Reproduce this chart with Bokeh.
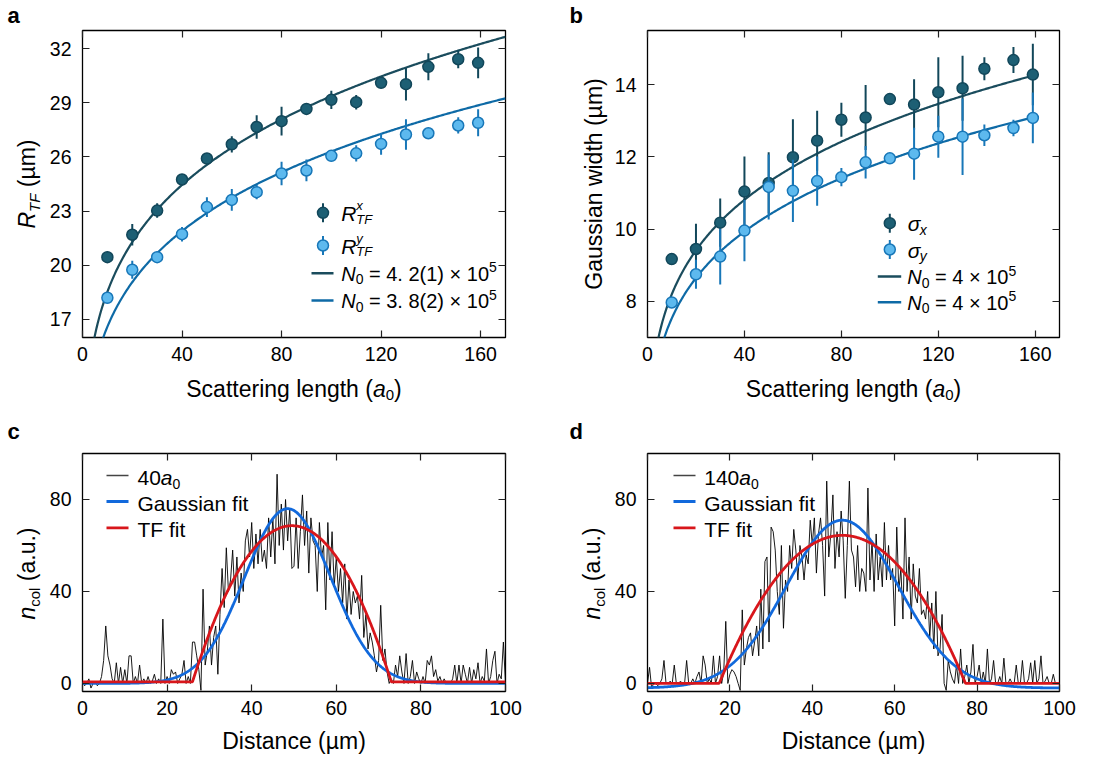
import numpy as np
from bokeh.plotting import figure
from bokeh.models import Range1d, FixedTicker, LinearAxis
from bokeh.core.properties import value
from bokeh.layouts import column, row
from bokeh.embed import file_html
from bokeh.resources import INLINE

# ---------------- data ----------------
scat_len = [10, 20, 30, 40, 50, 60, 70, 80, 90, 100, 110, 120, 130, 139, 151, 159]

rtf_x = [20.45, 21.69, 23.03, 24.75, 25.91, 26.70, 27.66, 27.98, 28.66, 29.16, 29.03, 30.10, 30.03, 30.99, 31.41, 31.21]
rtf_x_err = [0.3, 0.6, 0.4, 0.3, 0.3, 0.45, 0.65, 0.8, 0.3, 0.5, 0.4, 0.3, 0.9, 0.75, 0.5, 0.85]
rtf_y = [18.20, 19.75, 20.45, 21.72, 23.22, 23.62, 24.05, 25.08, 25.25, 26.06, 26.20, 26.72, 27.24, 27.31, 27.74, 27.89]
rtf_y_err = [0.3, 0.5, 0.3, 0.4, 0.55, 0.6, 0.4, 0.65, 0.6, 0.3, 0.45, 0.6, 0.85, 0.3, 0.45, 0.75]

sig_x = [9.17, 9.45, 10.18, 11.04, 11.28, 11.99, 12.45, 13.03, 13.09, 13.60, 13.45, 13.79, 13.90, 14.44, 14.68, 14.28]
sig_x_err = [0.1, 0.7, 0.67, 0.97, 0.85, 1.05, 0.83, 0.47, 0.9, 0.15, 0.7, 0.97, 0.9, 0.32, 0.36, 0.85]
sig_y = [7.97, 8.75, 9.24, 9.96, 11.17, 11.06, 11.33, 11.44, 11.85, 11.96, 12.09, 12.56, 12.56, 12.60, 12.80, 13.08]
sig_y_err = [0.1, 0.4, 0.77, 0.85, 0.9, 0.86, 0.68, 0.25, 0.45, 0.15, 0.72, 0.58, 1.06, 0.3, 0.23, 0.7]

# fitted prefactors of the a^(1/5) law
fit_exp = 0.2
fit_rx, fit_ry = 11.69, 10.47
fit_sx, fit_sy = 5.17, 4.75

# column density profiles (sampled every 0.5 um from 0 to 100 um)
prof_step = 0.5
prof_40 = [1, -1, 0, 2, -2, 0, 1, -1, 0, 3,
           10, 25, 12, 8, 2, 0, 9, 0, 7, 0,
           6, 0, 12, 12, 0, 3, 0, 8, 0, 2,
           0, 3, 0, 1, 4, 0, 2, 0, 28, 0,
           3, 0, 6, 4, 5, 0, 2, 4, 10, 0,
           3, 0, 18, 18, 12, 6, -3, 41, 8, 14,
           25, 8, 20, 25, 4, 30, 50, 33, 59, 40,
           45, 58, 38, 55, 35, 48, 40, 62, 67, 55,
           70, 50, 65, 52, 67, 53, 58, 50, 72, 55,
           72, 52, 91, 60, 78, 58, 80, 62, 76, 50,
           51, 72, 50, 66, 82, 60, 75, 48, 72, 62,
           60, 40, 70, 55, 60, 32, 70, 45, 66, 42,
           55, 40, 50, 35, 52, 28, 45, 30, 40, 35,
           38, 28, 47, 20, 30, 15, 22, 18, 12, 5,
           10, 34, 10, 15, 5, 0, 2, 0, 8, 3,
           12, 5, 0, 13, 0, 3, 10, 0, 5, 2,
           0, 3, 0, 10, 8, 12, 3, 6, 1, 3,
           0, 2, 0, 1, 0, 2, 8, 0, 8, 0,
           8, 4, 0, 7, 0, 6, 2, 9, 0, 3,
           1, 15, 0, 3, 10, 14, 0, 4, 2, 18,
           0]
prof_140 = [0, 7, -2, 0, 0, -1, 0, 2, 10, 0,
            0, 1, 0, 8, 0, 0, 1, 0, 0, 10,
            0, 0, 2, 0, 3, 5, 0, 12, 8, 0,
            2, 0, 12, 0, 3, 12, 0, 5, 27, 0,
            4, 6, 5, 3, 0, -3, 32, 8, 15, 20,
            22, 12, 18, 25, 12, 41, 15, 53, 55, 18,
            68, 66, 58, 40, 30, 60, 24, 45, 40, 60,
            50, 67, 58, 45, 60, 55, 45, 56, 52, 71,
            60, 72, 48, 65, 72, 60, 38, 88, 55, 65,
            82, 50, 66, 55, 75, 62, 37, 60, 88, 58,
            55, 42, 60, 40, 50, 48, 40, 85, 45, 62,
            40, 65, 45, 55, 42, 70, 45, 60, 45, 50,
            25, 68, 40, 50, 28, 72, 40, 55, 28, 52,
            38, 35, 50, 30, 32, 28, 40, 20, 35, 15,
            40, 12, 15, 30, 0, -3, 10, 5, 2, 0,
            8, 0, 15, 0, 3, 8, 0, 5, 17, 0,
            3, 8, 0, 5, 0, 15, 0, 2, 10, 0,
            0, 3, 0, 11, 0, 0, 2, 0, 0, 8,
            0, 0, 10, 0, 0, 2, 9, 0, 10, 0,
            2, 12, 0, 1, 3, 0, 0, 4, 0, 0,
            0]

# fit parameters: (amplitude, centre, width, offset)
gauss_40 = (76.0, 48.5, 10.2, 0.0)
tf_40 = (67.9, 49.5, 23.5, 0.7)
gauss_140 = (73.0, 47.3, 13.6, -2.0)
tf_140 = (64.4, 47.3, 29.9, 0.0)

# ---------------- style ----------------
FONT = "Liberation Sans"
DARK_FILL, DARK_EDGE, DARK_LINE = "#1d5f74", "#12475a", "#1a4c5d"
LIGHT_FILL, LIGHT_EDGE, LIGHT_LINE = "#5db9ee", "#1877b8", "#0e6aa6"
GAUSS_C, TF_C = "#1169dc", "#d8161b"
NB = "\u00a0"
BASELINE_FIX = 0.29  # text glyph sits this fraction of its size below the requested baseline

W = {' ': 278, NB: 278, '(': 333, ')': 333, '.': 278, '=': 584, '\u00d7': 584, '\u00b5': 576,
     'a': 556, 'b': 556, 'c': 500, 'd': 556, 'e': 556, 'f': 278, 'g': 556, 'h': 556,
     'i': 222, 'j': 222, 'k': 500, 'l': 222, 'm': 833, 'n': 556, 'o': 556, 'p': 556,
     'q': 556, 'r': 333, 's': 500, 't': 278, 'u': 556, 'v': 500, 'w': 722, 'x': 500,
     'y': 500, 'z': 500, 'D': 722, 'F': 611, 'G': 778, 'N': 722, 'R': 722, 'S': 667,
     'T': 611, '\u03c3': 570}


def tw(s, size):
    return sum(W.get(ch, 556) for ch in s) / 1000.0 * size


# picture-pixel geometry: figure box and frame box (left, top, right, bottom)
GEO = {
    "a": dict(x=0, y=0, w=564, h=418, frame=(82, 30, 505, 337)),
    "b": dict(x=564, y=0, w=540, h=418, frame=(647, 30, 1059, 337)),
    "c": dict(x=0, y=418, w=564, h=336, frame=(82, 453, 505, 691)),
    "d": dict(x=564, y=418, w=540, h=336, frame=(647, 453, 1059, 691)),
}
FRAMES = {}


def make_fig(key, xr, yr, xticks, yticks):
    g = GEO[key]
    l, t, r, b = g["frame"]
    p = figure(width=g["w"], height=g["h"], x_range=Range1d(*xr), y_range=Range1d(*yr),
               output_backend="svg", toolbar_location=None,
               min_border_left=l - g["x"], min_border_right=g["x"] + g["w"] - r,
               min_border_top=t - g["y"], min_border_bottom=g["y"] + g["h"] - b)
    p.xgrid.visible = False
    p.ygrid.visible = False
    p.outline_line_color = "black"
    p.outline_line_width = 1.3
    p.outline_line_alpha = 1.0
    p.background_fill_color = "white"
    p.border_fill_color = "white"
    for ax, ticks, standoff in ((p.xaxis[0], xticks, 9), (p.yaxis[0], yticks, 11)):
        ax.ticker = FixedTicker(ticks=ticks)
        ax.axis_line_color = None
        ax.major_tick_in = 7
        ax.major_tick_out = 0
        ax.major_tick_line_color = "#222222"
        ax.major_tick_line_width = 1.2
        ax.minor_tick_line_color = None
        ax.major_label_text_font = FONT
        ax.major_label_text_font_size = "19.5px"
        ax.major_label_text_color = "black"
        ax.major_label_standoff = standoff
    for side, ticks in (("above", xticks), ("right", yticks)):
        ax = LinearAxis(ticker=FixedTicker(ticks=ticks), axis_line_color=None,
                        major_tick_in=7, major_tick_out=0, major_tick_line_color="#222222",
                        major_tick_line_width=1.2, minor_tick_line_color=None,
                        major_label_text_font_size="0px",
                        major_label_overrides={v: "" for v in ticks})
        p.add_layout(ax, side)
    FRAMES[p.id] = g["frame"]
    return p


def dx(p, px):
    l, t, r, b = FRAMES[p.id]
    return p.x_range.start + (px - l) / (r - l) * (p.x_range.end - p.x_range.start)


def dy(p, py):
    l, t, r, b = FRAMES[p.id]
    return p.y_range.start + (b - py) / (b - t) * (p.y_range.end - p.y_range.start)


def add_text(p, segs, px, py, align="left", angle=0.0):
    """segs: (text, size, style, baseline shift px, advance); px, py in picture pixels"""
    total = sum(tw(s[0], s[1]) for s in segs if s[4])
    pos = -total / 2 if align == "center" else 0.0
    for text, size, style, shift, adv in segs:
        fix = BASELINE_FIX * size
        if angle == 0.0:
            qx, qy = px + pos, py - shift - fix
        else:
            qx, qy = px - shift - fix, py - pos
        p.text(x=[dx(p, qx)], y=[dy(p, qy)], text=[text], angle=angle,
               text_font=value(FONT), text_font_size=value(f"{size}px"),
               text_font_style=style, text_color="black", text_align="left",
               text_baseline="alphabetic", level="overlay")
        if adv:
            pos += tw(text, size)


def panel_letter(p, letter, px, py):
    add_text(p, [(letter, 22, "bold", 0, True)], px, py)


def xlabel_scat(p):
    l, t, r, b = FRAMES[p.id]
    add_text(p, [("Scattering length (", 23, "normal", 0, True),
                 ("a", 23, "italic", 0, True),
                 ("0", 15, "normal", -4, True),
                 (")", 23, "normal", 0, True)], (l + r) / 2, 395, align="center")


def errplot(p, x, y, err, fill, edge):
    y0 = [v - e for v, e in zip(y, err)]
    y1 = [v + e for v, e in zip(y, err)]
    p.segment(x0=x, y0=y0, x1=x, y1=y1, line_color=edge, line_width=2)
    p.scatter(x, y, size=11, fill_color=fill, line_color=edge, line_width=1.5)


def legend_marker(p, px, py, fill, edge):
    p.segment(x0=[dx(p, px)], y0=[dy(p, py + 9.5)], x1=[dx(p, px)], y1=[dy(p, py - 9.5)],
              line_color=edge, line_width=2)
    p.scatter([dx(p, px)], [dy(p, py)], size=11, fill_color=fill, line_color=edge, line_width=1.5)


def legend_line(p, px0, px1, py, color, width):
    p.line([dx(p, px0), dx(p, px1)], [dy(p, py), dy(p, py)], line_color=color, line_width=width)


def n0_text(p, px, py, mant):
    add_text(p, [("N", 20, "italic", 0, True), ("0", 14, "normal", -3.5, True),
                 (NB + "=" + NB + mant + NB + "\u00d7" + NB + "10", 20, "normal", 0, True),
                 ("5", 14, "normal", 8.5, True)], px, py)


# ---------------- panel a ----------------
pa = make_fig("a", (0, 170), (16, 33), [0, 40, 80, 120, 160], [17, 20, 23, 26, 29, 32])
xa = np.linspace(1, 170, 400)
pa.line(xa, fit_rx * xa ** fit_exp, line_color=DARK_LINE, line_width=2.2)
pa.line(xa, fit_ry * xa ** fit_exp, line_color=LIGHT_LINE, line_width=2.2)
errplot(pa, scat_len, rtf_x, rtf_x_err, DARK_FILL, DARK_EDGE)
errplot(pa, scat_len, rtf_y, rtf_y_err, LIGHT_FILL, LIGHT_EDGE)
legend_marker(pa, 322.5, 212.3, DARK_FILL, DARK_EDGE)
legend_marker(pa, 322.5, 245.0, LIGHT_FILL, LIGHT_EDGE)
legend_line(pa, 311, 333, 272.7, DARK_LINE, 2.4)
legend_line(pa, 311, 333, 300.0, LIGHT_LINE, 2.4)
for py, sup in ((219.0, "x"), (251.7, "y")):
    add_text(pa, [("R", 21, "italic", 0, True), (sup, 13, "italic", 10, False),
                  ("TF", 13, "italic", -3.5, True)], 340.7, py)
n0_text(pa, 340.7, 279.3, "4." + NB + "2(1)")
n0_text(pa, 340.7, 306.7, "3." + NB + "8(2)")
xlabel_scat(pa)
add_text(pa, [("R", 23, "italic", 0, True), ("TF", 15, "italic", -5, True),
              (NB + "(\u00b5m)", 23, "normal", 0, True)], 33, 183.5, align="center", angle=np.pi / 2)
panel_letter(pa, "a", 7, 21)

# ---------------- panel b ----------------
pb = make_fig("b", (0, 170), (7, 15.5), [0, 40, 80, 120, 160], [8, 10, 12, 14])
xb = np.linspace(1, 159, 400)
pb.line(xb, fit_sx * xb ** fit_exp, line_color=DARK_LINE, line_width=2.2)
pb.line(xb, fit_sy * xb ** fit_exp, line_color=LIGHT_LINE, line_width=2.2)
errplot(pb, scat_len, sig_x, sig_x_err, DARK_FILL, DARK_EDGE)
errplot(pb, scat_len, sig_y, sig_y_err, LIGHT_FILL, LIGHT_EDGE)
legend_marker(pb, 889.3, 222.7, DARK_FILL, DARK_EDGE)
legend_marker(pb, 889.3, 249.0, LIGHT_FILL, LIGHT_EDGE)
legend_line(pb, 877.3, 900.7, 276.0, DARK_LINE, 2.4)
legend_line(pb, 877.3, 900.7, 301.7, LIGHT_LINE, 2.4)
for py, sub in ((229.5, "x"), (255.8, "y")):
    add_text(pb, [("\u03c3", 21, "italic", 0, True), (sub, 14, "italic", -4, True)], 907.3, py)
n0_text(pb, 906.7, 282.7, "4")
n0_text(pb, 906.7, 308.3, "4")
xlabel_scat(pb)
add_text(pb, [("Gaussian width (\u00b5m)", 23, "normal", 0, True)], 600, 183.5,
         align="center", angle=np.pi / 2)
panel_letter(pb, "b", 569, 21)


# ---------------- panels c, d ----------------
def profile_panel(key, prof, gauss, tf, leg_x0, leg_txt_x, tag, letter, letter_x):
    p = make_fig(key, (0, 100), (-3.5, 100), [0, 20, 40, 60, 80, 100], [0, 40, 80])
    xs = np.arange(len(prof)) * prof_step
    p.line(xs, prof, line_color="black", line_width=0.9)
    xf = np.linspace(0, 100, 801)
    A, x0, s, off = gauss
    p.line(xf, A * np.exp(-(xf - x0) ** 2 / (2 * s ** 2)) + off, line_color=GAUSS_C, line_width=2.8)
    A, x0, R, off = tf
    p.line(xf, A * np.clip(1 - ((xf - x0) / R) ** 2, 0, None) + off, line_color=TF_C, line_width=2.8)
    legend_line(p, leg_x0, leg_x0 + 22, 475.0, "#444444", 1.3)
    legend_line(p, leg_x0, leg_x0 + 22, 501.0, GAUSS_C, 2.8)
    legend_line(p, leg_x0, leg_x0 + 22, 527.3, TF_C, 2.8)
    add_text(p, [(tag, 21, "normal", 0, True), ("a", 21, "italic", 0, True),
                 ("0", 14, "normal", -4, True)], leg_txt_x, 483.3)
    add_text(p, [("Gaussian fit", 21, "normal", 0, True)], leg_txt_x, 509.3)
    add_text(p, [("TF fit", 21, "normal", 0, True)], leg_txt_x, 535.0)
    l, t, r, b = FRAMES[p.id]
    add_text(p, [("Distance (\u00b5m)", 23, "normal", 0, True)], (l + r) / 2, 747, align="center")
    add_text(p, [("n", 23, "italic", 0, True), ("col", 15, "normal", -5, True),
                 (NB + "(a.u.)", 23, "normal", 0, True)], l - 48.5, 573, align="center", angle=np.pi / 2)
    panel_letter(p, letter, letter_x, 437)
    return p


pc = profile_panel("c", prof_40, gauss_40, tf_40, 106, 137, "40", "c", 7)
pd_ = profile_panel("d", prof_140, gauss_140, tf_140, 673, 703.7, "140", "d", 569)

layout = column(row(pa, pb), row(pc, pd_))
open("out.html", "w").write(file_html(layout, INLINE))
